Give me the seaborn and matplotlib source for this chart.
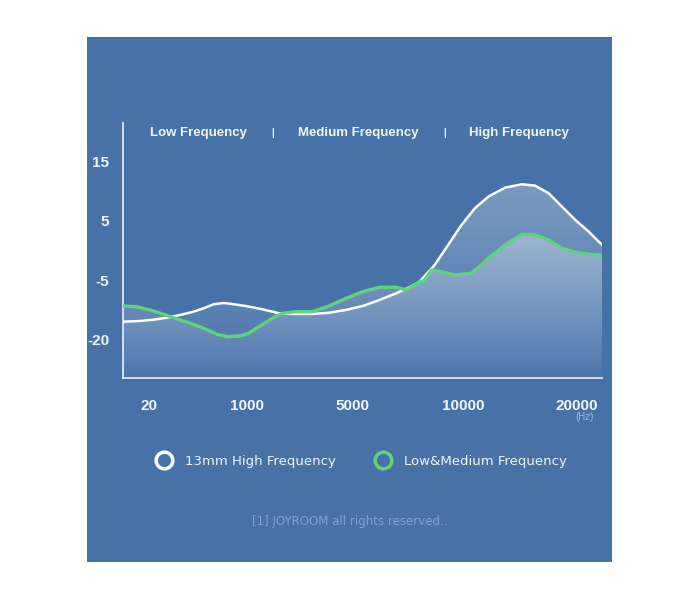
"""
Frequency response chart: 13mm high-frequency driver vs low/medium driver.
Recreated with seaborn + matplotlib, saved to out.png.
"""
import numpy as np
import pandas as pd
import matplotlib
matplotlib.use("Agg")
import matplotlib.pyplot as plt
from matplotlib.lines import Line2D
from matplotlib.patches import Rectangle
import seaborn as sns

# ---------------------------------------------------------------------
# data (frequency in Hz, level in dB)
white_hz = [0, 13, 63, 199, 333, 468, 569, 670, 771, 872, 990, 1598, 2230,
            2867, 3503, 4135, 4771, 5482, 6230, 6982, 7581, 8032, 8708,
            9311, 9910, 11000, 12186, 13655, 15133, 16310, 17496, 18673,
            19850, 21035, 22200]
white_db = [-15.35, -15.17, -14.84, -14.33, -13.64, -12.80, -11.94, -10.92,
            -10.59, -10.92, -11.36, -12.19, -13.21, -13.39, -13.39, -13.06,
            -12.37, -11.36, -9.83, -8.13, -6.60, -5.18, -2.33, 1.0, 4.33,
            7.15, 9.12, 10.64, 11.22, 10.98, 9.70, 7.42, 5.17, 3.22, 1.0]

green_hz = [0, 10, 30, 164, 300, 434, 569, 704, 805, 939, 1088, 1469, 1979,
            2360, 2867, 3503, 4135, 4771, 5482, 6230, 6982, 7433, 7883,
            8257, 8559, 9009, 9609, 10708, 12186, 13655, 15133, 16310,
            17496, 18673, 19850, 21035, 22200]
green_db = [-11.36, -11.53, -12.37, -13.46, -14.66, -15.75, -17.02, -18.55,
            -19.16, -18.98, -18.29, -16.62, -14.48, -13.21, -12.80, -12.80,
            -11.36, -9.40, -7.72, -6.60, -6.60, -7.29, -5.76, -4.83, -3.17,
            -3.45, -4.0, -3.72, -1.22, 1.0, 2.78, 2.67, 1.83, 0.45, -0.22,
            -0.55, -0.67]

x_ticks = [20, 1000, 5000, 10000, 20000]
y_ticks = [15, 5, -5, -20]
bands = ["Low Frequency", "Medium Frequency", "High Frequency"]
series = ["13mm High Frequency", "Low&Medium Frequency"]
footer = "[1] JOYROOM all rights reserved.."

PANEL = "#4672a8"
GREEN = "#5dd47e"
WHITE = "#ffffff"
TEXT = "#f2f5fa"

# ---------------------------------------------------------------------
# the axes are not linear: ticks are evenly laid out on the original
X_KNOTS = [0, 20, 1000, 5000, 10000, 20000, 30000]
X_POS = [0, 26, 123, 228, 339, 452, 565]
Y_KNOTS = [-40, -20, -5, 5, 15, 30]
Y_POS = [-40.7, 38, 97, 157, 216, 304.5]


def x_fwd(v):
    return np.interp(v, X_KNOTS, X_POS)


def x_inv(p):
    return np.interp(p, X_POS, X_KNOTS)


def y_fwd(v):
    return np.interp(v, Y_KNOTS, Y_POS)


def y_inv(p):
    return np.interp(p, Y_POS, Y_KNOTS)


sns.set_theme(style="white")
plt.rcParams["font.family"] = ["Liberation Sans", "DejaVu Sans"]

fig = plt.figure(figsize=(7, 6), dpi=100, facecolor="white")
fig.patches.append(Rectangle((87 / 700, 38 / 600), 525 / 700, 525 / 600,
                             transform=fig.transFigure, facecolor=PANEL,
                             edgecolor="none", zorder=-10))

ax = fig.add_axes([123 / 700, 222 / 600, 479 / 700, 255 / 600])
ax.set_facecolor("none")
ax.set_xscale("function", functions=(x_fwd, x_inv))
ax.set_yscale("function", functions=(y_fwd, y_inv))

df_w = pd.DataFrame({"hz": white_hz, "db": white_db})
df_g = pd.DataFrame({"hz": green_hz, "db": green_db})

XLIM = (0, 22200)
YLIM = (-29.66, 21.6)


def gradient_fill(xs, ys, a_top, a_bot):
    poly = ax.fill_between(xs, ys, YLIM[0], facecolor="none",
                           edgecolor="none")
    t = np.linspace(1, 0, 256)[:, None]
    rgba = np.ones((256, 1, 4))
    rgba[..., 3] = np.clip(a_bot + (a_top - a_bot) * t, 0, 1)
    img = ax.imshow(rgba, extent=(0, 1, 0, 1), transform=ax.transAxes,
                    aspect="auto", zorder=1, interpolation="bilinear")
    img.set_clip_path(poly.get_paths()[0], ax.transData)


gradient_fill(white_hz, white_db, 0.36, 0.02)
gradient_fill(green_hz, green_db, 0.58, 0.02)

line_kw = dict(solid_capstyle="round", solid_joinstyle="round", zorder=3)
sns.lineplot(data=df_w, x="hz", y="db", color=WHITE, lw=1.8, ax=ax,
             **line_kw)
sns.lineplot(data=df_g, x="hz", y="db", color=GREEN, lw=2.4, ax=ax,
             **line_kw)

ax.set_xlim(*XLIM)
ax.set_ylim(*YLIM)
ax.set_xticks(x_ticks)
ax.set_xticklabels([str(v) for v in x_ticks])
ax.set_yticks(y_ticks)
ax.set_yticklabels([str(v) for v in y_ticks])
ax.set(xlabel="", ylabel="")
ax.tick_params(length=0, colors=TEXT, labelsize=11)
ax.tick_params(axis="x", pad=15)
ax.tick_params(axis="y", pad=10)
for lab in ax.get_xticklabels() + ax.get_yticklabels():
    lab.set_fontweight("bold")
for s in ["top", "right"]:
    ax.spines[s].set_visible(False)
for s in ["left", "bottom"]:
    ax.spines[s].set_color("#dfe7f2")
    ax.spines[s].set_linewidth(1.3)

# band labels along the top
for xf, name in zip([0.157, 0.491, 0.827], bands):
    ax.text(xf, 0.96, name, transform=ax.transAxes, ha="center",
            va="center", color=TEXT, fontsize=9.5, fontweight="bold")
for xf in [0.313, 0.672]:
    ax.text(xf, 0.96, "|", transform=ax.transAxes, ha="center",
            va="center", color=TEXT, fontsize=7, fontweight="bold")

fig.text(585 / 700, 1 - 417 / 600, "(Hz)", ha="center", va="center",
         color="#a9bfdd", fontsize=7)

handles = [Line2D([], [], ls="none", marker="o", markersize=12,
                  markerfacecolor="none", markeredgecolor=c, mew=2.5)
           for c in (WHITE, GREEN)]
leg = fig.legend(handles, series, loc="center",
                 bbox_to_anchor=(359 / 700, 1 - 461 / 600), ncol=2,
                 frameon=False, handletextpad=0.6, columnspacing=2.6,
                 prop={"family": "DejaVu Sans", "size": 9.5})
for t in leg.get_texts():
    t.set_color(TEXT)

fig.text(350 / 700, 1 - 521 / 600, footer, ha="center", va="center",
         color="#85a2cb", fontsize=8.5, family="DejaVu Sans")

fig.savefig("out.png", dpi=100, facecolor="white")
